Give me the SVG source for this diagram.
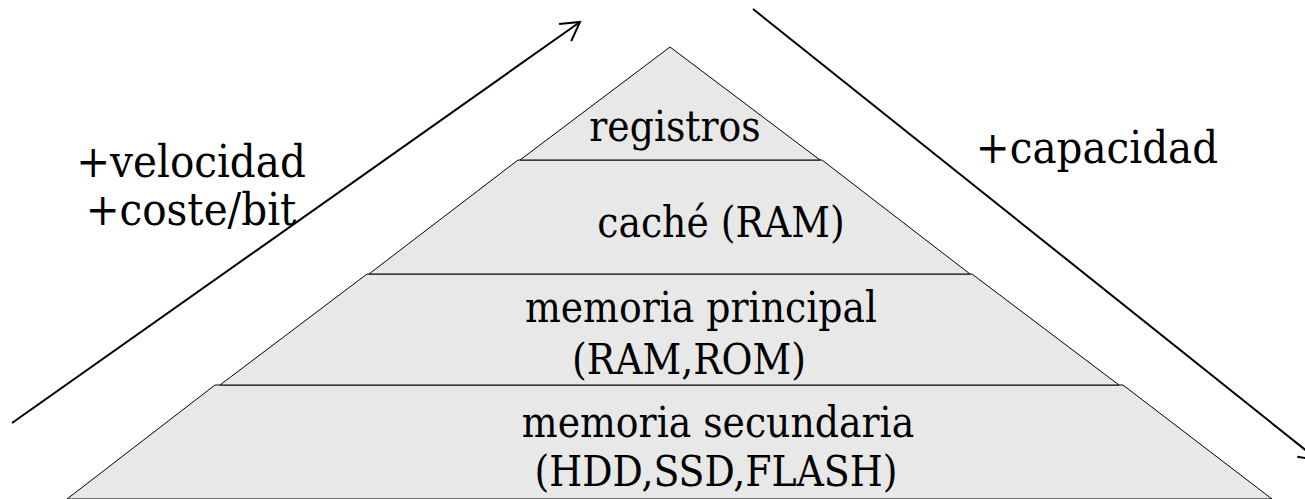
<svg xmlns="http://www.w3.org/2000/svg" width="1305" height="499" viewBox="0 0 1305 499">
<defs>
<style>
.layer{fill:#e8e8e8;stroke:#000;stroke-width:1}
.lbl{font-family:"DejaVu Serif Condensed","DejaVu Serif",serif;font-stretch:condensed;font-size:42px;fill:#000;text-anchor:middle}
.side{font-size:45px}
.arr{fill:none;stroke:#000;stroke-width:2}
</style>
<marker id="head" markerUnits="userSpaceOnUse" markerWidth="30" markerHeight="30" viewBox="-25 -15 30 30" refX="0" refY="0" orient="auto">
<path d="M-18.2,-10.5 L0,0 L-18.2,10.5" fill="none" stroke="#000" stroke-width="2"/>
</marker>
</defs>
<rect width="1305" height="499" fill="#fff"/>
<g id="secundaria">
<polygon class="layer" points="215,385 1123,385 1272,499 67,499"/>
<text class="lbl" x="718" y="437">memoria secundaria</text>
<text class="lbl" x="716" y="486">(HDD,SSD,FLASH)</text>
</g>
<g id="principal">
<polygon class="layer" points="367,274 972,274 1119,385 220,385"/>
<text class="lbl" x="701" y="322">memoria principal</text>
<text class="lbl" x="689" y="374">(RAM,ROM)</text>
</g>
<g id="cache">
<polygon class="layer" points="518,160 822,160 970,274 369,274"/>
<text class="lbl" x="721" y="237">caché (RAM)</text>
</g>
<g id="registros">
<polygon class="layer" points="670,47 820,160 520,160"/>
<text class="lbl" x="675" y="141">registros</text>
</g>
<g id="connectors">
<line class="arr" x1="12" y1="423" x2="580" y2="22" marker-end="url(#head)"/>
<line class="arr" x1="753" y1="9" x2="1318" y2="460" marker-end="url(#head)"/>
</g>
<g id="labels">
<text class="lbl side" x="191" y="177">+velocidad</text>
<text class="lbl side" x="191" y="225">+coste/bit</text>
<text class="lbl side" x="1097" y="163">+capacidad</text>
</g>
</svg>
